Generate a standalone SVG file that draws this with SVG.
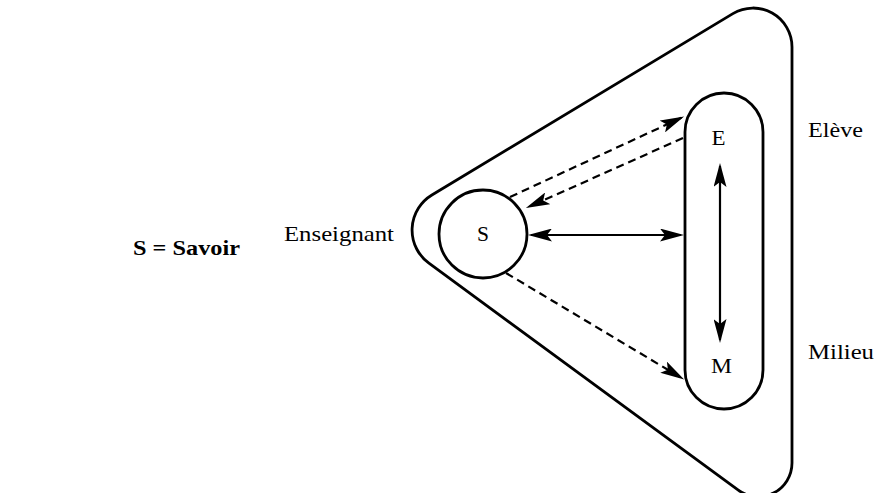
<svg xmlns="http://www.w3.org/2000/svg" width="877" height="493" viewBox="0 0 877 493">
  <style>
    .shape { fill: none; stroke: #000; stroke-width: 2.8; }
    .arrow { fill: none; stroke: #000; stroke-width: 2.2; }
    .dash { stroke-dasharray: 8 5; }
    .lbl { font-family: "Liberation Serif", "Times New Roman", serif; font-size: 21px; fill: #000; }
    .title { font-family: "Liberation Serif", "Times New Roman", serif; font-size: 22px; font-weight: bold; fill: #000; }
  </style>
  <defs>
    <marker id="ah" viewBox="0 0 24 13" refX="21" refY="6.5" markerWidth="24" markerHeight="13" markerUnits="userSpaceOnUse" orient="auto-start-reverse">
      <path d="M0,0 L24,6.5 L0,13 L5,6.5 z" fill="#000"/>
    </marker>
  </defs>
  <rect width="877" height="493" fill="#fff"/>

  <g id="legend">
    <text class="title" x="133" y="255" textLength="107" lengthAdjust="spacingAndGlyphs">S = Savoir</text>
  </g>

  <g id="enseignant">
    <path class="shape" d="M431.9,195 L732.9,13.6 A39,39 0 0 1 792,47 L792,463 A33.7,33.7 0 0 1 738.3,490.1 L428.9,263.2 A41,41 0 0 1 431.9,195 Z"/>
    <text class="lbl" x="284" y="241" textLength="110" lengthAdjust="spacingAndGlyphs">Enseignant</text>
  </g>

  <g id="eleve-milieu">
    <rect class="shape" x="685" y="93" width="78" height="316" rx="39" ry="39"/>
    <text class="lbl" x="808" y="137" textLength="55" lengthAdjust="spacingAndGlyphs">Elève</text>
    <text class="lbl" x="808" y="359" textLength="66" lengthAdjust="spacingAndGlyphs">Milieu</text>
  </g>

  <g id="E">
    <text class="lbl" x="718.5" y="145" text-anchor="middle" textLength="14" lengthAdjust="spacingAndGlyphs">E</text>
  </g>
  <g id="M">
    <text class="lbl" x="721.5" y="373" text-anchor="middle" textLength="21" lengthAdjust="spacingAndGlyphs">M</text>
  </g>

  <g id="S">
    <circle class="shape" cx="483" cy="234" r="44" stroke-width="2.4"/>
    <text class="lbl" x="483" y="241" text-anchor="middle" textLength="12" lengthAdjust="spacingAndGlyphs">S</text>
  </g>

  <g id="connectors">
    <line class="arrow" x1="531" y1="235" x2="681" y2="235" marker-start="url(#ah)" marker-end="url(#ah)"/>
    <line class="arrow" x1="720" y1="166" x2="720" y2="340" marker-start="url(#ah)" marker-end="url(#ah)"/>
    <line class="arrow dash" x1="510" y1="197" x2="681.4" y2="117.7" marker-end="url(#ah)"/>
    <line class="arrow dash" x1="683" y1="138" x2="528.6" y2="206.9" marker-end="url(#ah)"/>
    <line class="arrow dash" x1="506" y1="273" x2="681.6" y2="378" marker-end="url(#ah)"/>
  </g>
</svg>
